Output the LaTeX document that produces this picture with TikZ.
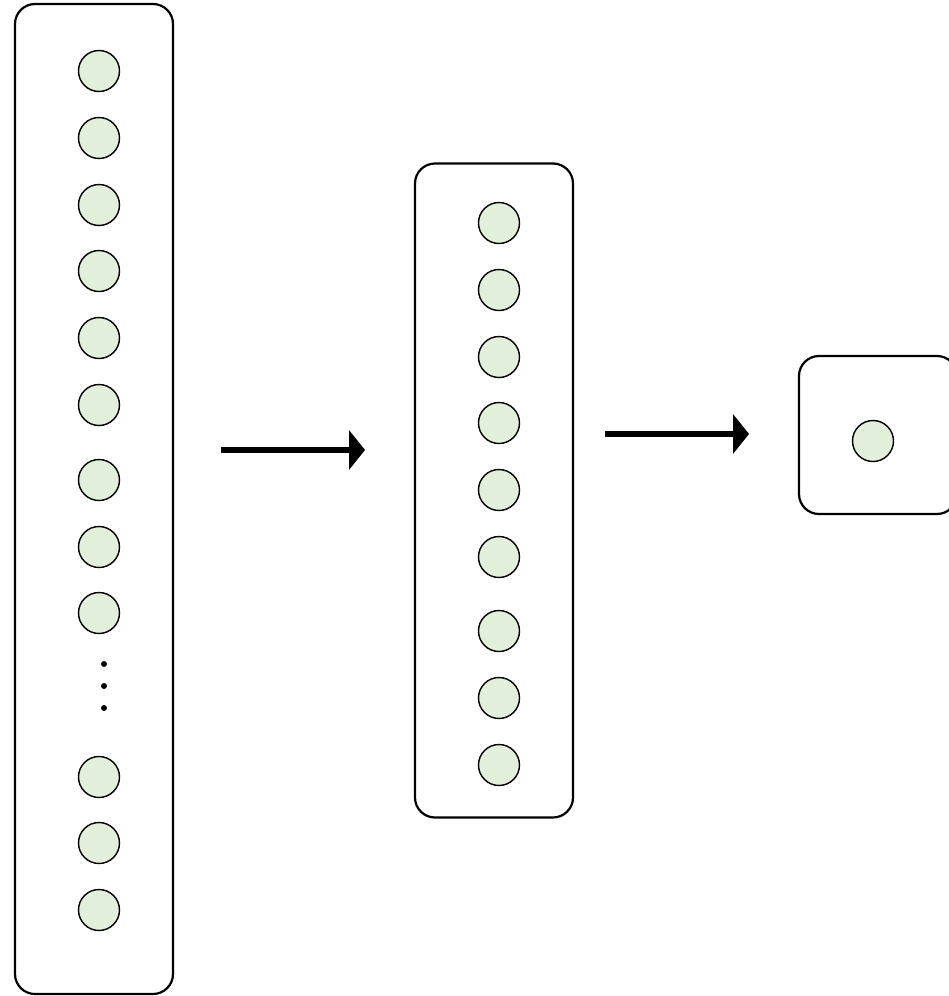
\documentclass[tikz,border=0pt]{standalone}
\usepackage{xcolor}
\usetikzlibrary{positioning,arrows.meta}
\definecolor{cell}{HTML}{E2EFDA}

\begin{document}
\begin{tikzpicture}[
  x=1pt, y=-1pt,
  layer/.style={draw=black, line width=2.2pt, fill=white, rounded corners=20pt,
                minimum width=158pt, inner sep=0pt},
  unit/.style={circle, draw=black, line width=1.4pt, fill=cell, minimum size=41pt, inner sep=0pt},
  dot/.style={circle, fill=black, minimum size=6pt, inner sep=0pt},
  flow/.style={-{Triangle[length=16pt, width=39pt]}, line width=6.5pt}
]
\useasboundingbox (0,0) rectangle (949,996);

% layers
\node[layer, minimum height=990pt] (inbox)  at (94,499) {};
\node[layer, minimum height=654pt] (hidbox) at (494,490.5) {};
\node[layer, minimum height=158pt] (outbox) at (878,435) {};

% input units
\foreach \y [count=\i] in {71,138,205,271,338,405,480,547,613,777,843,910}
  \node[unit] (in\i) at (99,\y) {};
\foreach \y [count=\i] in {664,686,708}
  \node[dot] (gap\i) at (104,\y) {};

% hidden units
\foreach \y [count=\i] in {223,290,357,423,490,557,631,698,765}
  \node[unit] (hid\i) at (499,\y) {};

% output unit
\node[unit] (out1) at (873,441) {};

% arrows
\coordinate (f1s) at (221,450);
\coordinate (f1e) at (365,450);
\coordinate (f2s) at (605,434);
\coordinate (f2e) at (749,434);
\draw[flow] (f1s) -- (f1e);
\draw[flow] (f2s) -- (f2e);
\end{tikzpicture}
\end{document}
